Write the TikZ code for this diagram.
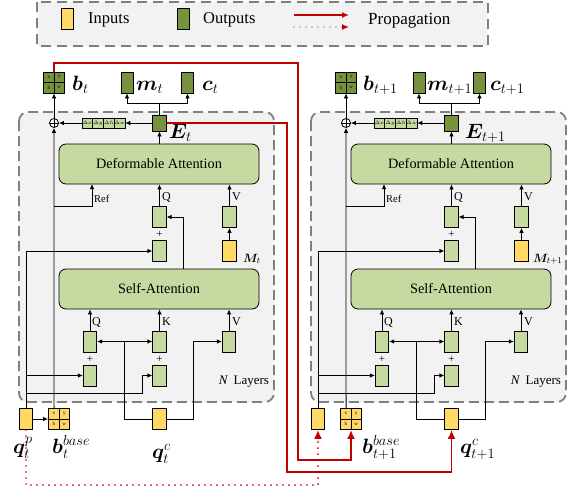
\documentclass[tikz,border=0pt]{standalone}
\usepackage{fontspec}
\setmainfont{Liberation Serif}
\usepackage{amsmath,bm}
\usetikzlibrary{arrows.meta,calc}
\definecolor{dgreen}{HTML}{76923C}
\definecolor{lgreen}{HTML}{C6D9A1}
\definecolor{yel}{HTML}{FFD966}
\definecolor{dred}{HTML}{C00000}
\definecolor{blockfill}{HTML}{F2F2F2}
\definecolor{dashgray}{HTML}{808080}
\tikzset{
 bx/.style={draw=black, line width=0.8pt, inner sep=0pt, minimum width=13.5pt, minimum height=21pt},
 lb/.style={bx, fill=lgreen},
 yb/.style={bx, fill=yel},
 gb/.style={bx, fill=dgreen},
 big/.style={draw=black, line width=0.8pt, fill=lgreen, rounded corners=7pt, minimum width=200pt, minimum height=40pt, inner sep=0pt, font=\fontsize{14.3}{16}\selectfont},
 arr/.style={line width=0.8pt, -{Latex[length=5pt,width=4.5pt]}},
 ln/.style={line width=0.8pt},
 redarr/.style={draw=dred, line width=1.8pt, -{Latex[length=9pt,width=8pt]}},
 reddot/.style={draw=dred, line width=1.8pt, dash pattern=on 0pt off 6pt, line cap=round, -{Latex[length=9pt,width=8pt]}},
 small/.style={font=\fontsize{12}{14}\selectfont, inner sep=0pt},
 tinyf/.style={font=\fontsize{5}{6}\selectfont, inner sep=0pt},
 mlab/.style={font=\fontsize{20.5}{24}\selectfont, inner sep=0pt, anchor=base west},
 block/.style={draw=dashgray, line width=1.8pt, dash pattern=on 10pt off 5pt, fill=blockfill, rounded corners=9pt},
 legtext/.style={font=\fontsize{16.5}{19}\selectfont, inner sep=0pt, anchor=west},
}
\newcommand\gridbox[3]{%
 \node[bx, fill=#3, minimum width=21pt, minimum height=21pt] (#1) at (#2) {};
 \draw[ln] (#1.north) -- (#1.south) (#1.west) -- (#1.east);
 \node[tinyf] at ([xshift=-5.25pt,yshift=5.25pt]#1.center) {x};
 \node[tinyf] at ([xshift=5.25pt,yshift=5.25pt]#1.center) {y};
 \node[tinyf] at ([xshift=-5.25pt,yshift=-5.25pt]#1.center) {h};
 \node[tinyf] at ([xshift=5.25pt,yshift=-5.25pt]#1.center) {w};
}
\newcommand\deltastrip[2]{%
 \node[draw, fill=lgreen, line width=0.6pt, minimum width=43pt, minimum height=10pt, inner sep=0pt] (#1) at (#2) {};
 \draw[line width=0.6pt] ([xshift=-10.75pt]#1.north) -- ([xshift=-10.75pt]#1.south)
   (#1.north) -- (#1.south) ([xshift=10.75pt]#1.north) -- ([xshift=10.75pt]#1.south);
 \node[tinyf, font=\fontsize{4.5}{5}\selectfont] at ([xshift=-16.1pt]#1.center) {$\Delta x$};
 \node[tinyf, font=\fontsize{4.5}{5}\selectfont] at ([xshift=-5.4pt]#1.center) {$\Delta y$};
 \node[tinyf, font=\fontsize{4.5}{5}\selectfont] at ([xshift=5.4pt]#1.center) {$\Delta h$};
 \node[tinyf, font=\fontsize{4.5}{5}\selectfont] at ([xshift=16.1pt]#1.center) {$\Delta w$};
}
\newcommand\layerblock[2]{%
\begin{scope}[xshift=#2pt]
 \draw[block] (19,112) rectangle (274,402);
 \node[big] (DA#1) at (159,164) {Deformable Attention};
 \node[big] (SA#1) at (159,289) {Self-Attention};
 \gridbox{bg#1}{54,82.5}{dgreen}
 \node[gb, minimum width=12pt] (m#1) at (127,82.5) {};
 \node[gb, minimum width=12pt] (c#1) at (187.5,82.5) {};
 \node[gb, minimum height=16pt] (E#1) at (159.5,123) {};
 \node[draw, circle, fill=white, minimum size=9pt, inner sep=0pt, line width=0.8pt] (op#1) at (54,123) {};
 \draw[ln] (op#1.north) -- (op#1.south) (op#1.west) -- (op#1.east);
 \deltastrip{dl#1}{103.5,123}
 \node[lb] (daq#1) at (159.5,217) {};
 \node[lb] (dap#1) at (159.5,251) {};
 \node[lb] (dav#1) at (229.5,217) {};
 \node[yb] (M#1) at (229.5,251) {};
 \node[lb] (saq#1) at (90,341.5) {};
 \node[lb] (sak#1) at (159.5,341.5) {};
 \node[lb] (sav#1) at (229,341.5) {};
 \node[lb] (qpl#1) at (90,375.5) {};
 \node[lb] (kpl#1) at (159.5,375.5) {};
 \node[yb] (qp#1) at (26,419) {};
 \gridbox{bb#1}{59,419}{yel}
 \node[yb] (qc#1) at (159.5,419) {};
 \node[small, font=\fontsize{11}{12}\selectfont] (pa#1) at (159.5,234) {+};
 \node[small, font=\fontsize{11}{12}\selectfont] (pb#1) at (90,359) {+};
 \node[small, font=\fontsize{11}{12}\selectfont] (pc#1) at (159.5,359) {+};
 \node[font=\fontsize{13}{15}\selectfont, inner sep=0pt] (nl#1) at (244,382) {\textit{N}\, Layers};
 % outputs
 \coordinate (eo#1) at (159.5,103);
 \draw[ln] (E#1.north) -- (eo#1);
 \draw[arr] (eo#1) -| (m#1.south);
 \draw[arr] (eo#1) -| (c#1.south);
 \draw[arr] (E#1.south |- DA#1.north) -- (E#1.south);
 \draw[arr] (E#1.west) -- (dl#1.east);
 \draw[arr] (dl#1.west) -- (op#1.east);
 \draw[arr] (op#1.north) -- (bg#1.south);
 % reference line
 \draw[arr] ([xshift=6pt]bb#1.north west) -- (op#1.south);
 \coordinate (rj#1) at (54,206);
 \coordinate (rt#1) at (92,184);
 \draw[arr] (rj#1) -| (rt#1);
 \node[small, anchor=west, font=\fontsize{10.5}{12}\selectfont] (ref#1) at (94,199) {Ref};
 % deformable attention inputs
 \draw[arr] (daq#1.north) -- (daq#1.north |- DA#1.south);
 \node[small, anchor=west] (lq#1) at (162,197) {Q};
 \draw[arr] (dav#1.north) -- (dav#1.north |- DA#1.south);
 \node[small, anchor=west] (lv#1) at (232,197) {V};
 \draw[arr] (M#1.north) -- (dav#1.south);
 \coordinate (so#1) at (183,269);
 \draw[arr] (so#1) |- (daq#1.east);
 % self attention inputs
 \draw[arr] (saq#1.north) -- (saq#1.north |- SA#1.south);
 \node[small, anchor=west] (sq#1) at (92,322) {Q};
 \draw[arr] (sak#1.north) -- (sak#1.north |- SA#1.south);
 \node[small, anchor=west] (sk#1) at (162,322) {K};
 \draw[arr] (sav#1.north) -- (sav#1.north |- SA#1.south);
 \node[small, anchor=west] (sv#1) at (232,322) {V};
 % query positional
 \draw[arr] (qp#1.north) |- (dap#1.west);
 \draw[arr] (qp#1.north |- qpl#1.west) -- (qpl#1.west);
 \coordinate (kj#1) at (142,393);
 \draw[arr] (qp#1.north |- kj#1) -- (kj#1) |- (kpl#1.west);
 % content query
 \coordinate (qj#1) at (124,341.5);
 \draw[ln] (qc#1.west) -| (qj#1);
 \draw[arr] (qj#1) -- (saq#1.east);
 \draw[arr] (qj#1) -- (sak#1.west);
 \coordinate (vj#1) at (193,341.5);
 \draw[arr] (qc#1.east) -| (vj#1) -- (sav#1.west);
\end{scope}}
\begin{document}
\begin{tikzpicture}[x=1pt,y=-1pt]
\useasboundingbox (0,0) rectangle (570,488);
% legend
\draw[draw=dashgray, line width=1.8pt, dash pattern=on 10pt off 6pt, fill=blockfill] (37,2) rectangle (488,46);
\node[yb, minimum width=12pt] (lgi) at (67,19) {};
\node[legtext] (lgit) at (88,20) {Inputs};
\node[gb, minimum width=12pt] (lgo) at (183,19) {};
\node[legtext] (lgot) at (203,20) {Outputs};
\coordinate (la1) at (294,15); \coordinate (la2) at (349,15);
\coordinate (la3) at (294,27); \coordinate (la4) at (349,27);
\draw[redarr, line width=1.3pt, -{Latex[length=7pt,width=6pt]}] (la1) -- (la2);
\draw[reddot, line width=1.3pt, -{Latex[length=7pt,width=6pt]}] (la3) -- (la4);
\node[legtext, font=\fontsize{17}{19}\selectfont] (lgp) at (368,21) {Propagation};
% blocks
\layerblock{L}{0}
\layerblock{R}{292}
\draw[arr] (qpL.east) -- (bbL.west);
% labels left
\node[mlab] (tbt) at (72,90) {$\bm{b}_t$};
\node[mlab] (tmt) at (136,90) {$\bm{m}_t$};
\node[mlab] (tct) at (202,90) {$\bm{c}_t$};
\node[mlab] (tet) at (169,138) {$\bm{E}_t$};
\node[mlab, font=\fontsize{13}{15}\selectfont] (tMt) at (243,262) {$\bm{M}_t$};
\node[mlab] (tqp) at (13,453) {$\bm{q}_t^p$};
\node[mlab] (tbb) at (52,453) {$\bm{b}_t^{base}$};
\node[mlab] (tqc) at (152,458) {$\bm{q}_t^c$};
% labels right
\node[mlab] (rbt) at (363,90) {$\bm{b}_{t+1}$};
\node[mlab] (rmt) at (427,90) {$\bm{m}_{t+1}$};
\node[mlab] (rct) at (490,90) {$\bm{c}_{t+1}$};
\node[mlab] (ret) at (465,138) {$\bm{E}_{t+1}$};
\node[mlab, font=\fontsize{13}{15}\selectfont] (rMt) at (533,262) {$\bm{M}_{t+1}$};
\node[mlab] (rbb) at (362,453) {$\bm{b}_{t+1}^{base}$};
\node[mlab] (rqc) at (460,453) {$\bm{q}_{t+1}^c$};
% propagation
\coordinate (r1) at (298,63); \coordinate (r2) at (298,460);
\draw[redarr] (bgL.north) |- (r1) -- (r2) -| (bbR.south);
\coordinate (r3) at (287,472);
\draw[redarr] (EL.east) -| (r3) -| (qcR.south);
\coordinate (r4) at (26,485);
\draw[reddot] (qpL.south) -- (r4) -| (qpR.south);
\end{tikzpicture}
\end{document}
